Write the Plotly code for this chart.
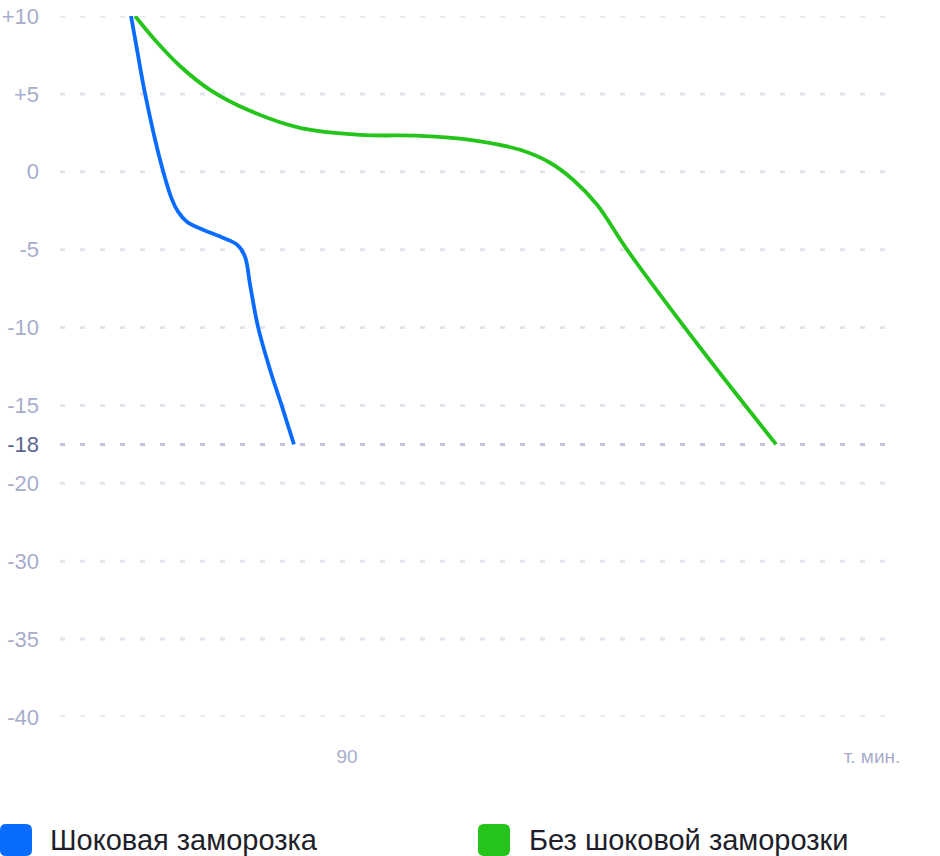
import numpy as np
import plotly.graph_objects as go

# Y axis tick temperatures (ordinal-like scale as in the reference) and labels
tick_temps = [10, 5, 0, -5, -10, -15, -18, -20, -30, -35, -40]
tick_labels = ["+10", "+5", "0", "-5", "-10", "-15", "-18", "-20", "-30", "-35", "-40"]
tick_slots = [0, 1, 2, 3, 4, 5, 5.5, 6, 7, 8, 9]

# Series: time (min) and temperature (°C)
shock_t = [0, 2.9, 5.8, 12.1, 17.1, 19.6, 23.3, 30.0, 38.3, 44.2, 47.5, 49.6, 52.9, 57.9, 63.3, 67.9]
shock_T = [10, 7.5, 5.06, 0.77, -1.79, -2.56, -3.21, -3.72, -4.23, -4.68, -5.45, -7.24, -9.94, -12.69, -15.3, -18]

normal_t = [1.7, 10.0, 20.4, 32.9, 49.6, 70.4, 95.4, 120.4, 141.3, 162.1, 174.6, 184.2, 194.2, 206.7, 237.1, 268.8]
normal_T = [10, 8.46, 6.79, 5.26, 3.91, 2.82, 2.37, 2.31, 2.05, 1.41, 0.58, -0.51, -2.12, -5.0, -11.28, -18]

x_ticks = [90, 308.75]
x_tick_labels = ["90", "т. мин."]

series_names = ["Шоковая заморозка", "Без шоковой заморозки"]
series_colors = ["#0A6CFF", "#24C41B"]


def to_slot(T):
    T = np.asarray(T, dtype=float)
    return np.interp(-T, [-v for v in tick_temps], tick_slots)


W, H = 940, 856
L, R, TOP, BOT = 60, 55, 16, 139
PW = W - L - R
PH = H - TOP - BOT

fig = go.Figure()

# gridlines as shapes (so -18 can be darker)
shapes = []
for temp, slot in zip(tick_temps, tick_slots):
    shapes.append(dict(
        type="line", xref="paper", yref="y", x0=0, x1=1, y0=slot, y1=slot,
        line=dict(color="#C4C5D9" if temp == -18 else "#E3E4EE", width=3, dash="5px,15px"),
        layer="below",
    ))

for t, T, name, col in [(shock_t, shock_T, series_names[0], series_colors[0]),
                        (normal_t, normal_T, series_names[1], series_colors[1])]:
    fig.add_trace(go.Scatter(
        x=t, y=to_slot(T), mode="lines", name=name,
        line=dict(color=col, width=3.8, shape="spline", smoothing=1.0),
        cliponaxis=False, showlegend=False, hoverinfo="skip",
    ))


def px_to_paper(px, py):
    return (px - L) / PW, (H - BOT - py) / PH


def rounded_rect(x0, y0, x1, y1, r):
    def P(x, y):
        a, b = px_to_paper(x, y)
        return f"{a:.5f},{b:.5f}"
    path = (f"M {P(x0 + r, y0)} L {P(x1 - r, y0)} Q {P(x1, y0)} {P(x1, y0 + r)} "
            f"L {P(x1, y1 - r)} Q {P(x1, y1)} {P(x1 - r, y1)} "
            f"L {P(x0 + r, y1)} Q {P(x0, y1)} {P(x0, y1 - r)} "
            f"L {P(x0, y0 + r)} Q {P(x0, y0)} {P(x0 + r, y0)} Z")
    return path


legend_pos = [(0, 48), (478, 527)]
annotations = []
for (sx, tx), name, col in zip(legend_pos, series_names, series_colors):
    shapes.append(dict(type="path", xref="paper", yref="paper",
                       path=rounded_rect(sx, 824, sx + 32, 856, 6),
                       fillcolor=col, line=dict(width=0)))
    ax, ay = px_to_paper(tx, 840)
    annotations.append(dict(xref="paper", yref="paper", x=ax, y=ay, xanchor="left", yanchor="middle",
                            text=name, showarrow=False,
                            font=dict(size=29, color="#1E1F2B", family="Liberation Sans, Arial, sans-serif")))

ticktext = [f"<span style='color:#5C6490'>{lab}</span>" if lab == "-18" else lab for lab in tick_labels]

fig.update_layout(
    width=W, height=H,
    margin=dict(l=L, r=R, t=TOP, b=BOT, pad=0, autoexpand=False),
    paper_bgcolor="white", plot_bgcolor="white",
    shapes=shapes, annotations=annotations,
    font=dict(family="Liberation Sans, Arial, sans-serif"),
    xaxis=dict(
        range=[(L - 131) / 2.4, (W - R - 131) / 2.4],
        showgrid=False, zeroline=False, showline=False, automargin=False,
        tickmode="array", tickvals=x_ticks, ticktext=x_tick_labels,
        ticks="", ticklabelstandoff=26,
        tickfont=dict(size=19, color="#A7ADCB"),
    ),
    yaxis=dict(
        range=[9, 0],
        showgrid=False, zeroline=False, showline=False, automargin=False,
        tickmode="array", tickvals=tick_slots, ticktext=ticktext,
        ticks="", ticklabelstandoff=20,
        tickfont=dict(size=22, color="#A7ADCB"),
    ),
)

fig.write_html("out.html", config={"displayModeBar": False},
               post_script="document.body.style.margin='0';document.body.style.overflow='hidden';")
